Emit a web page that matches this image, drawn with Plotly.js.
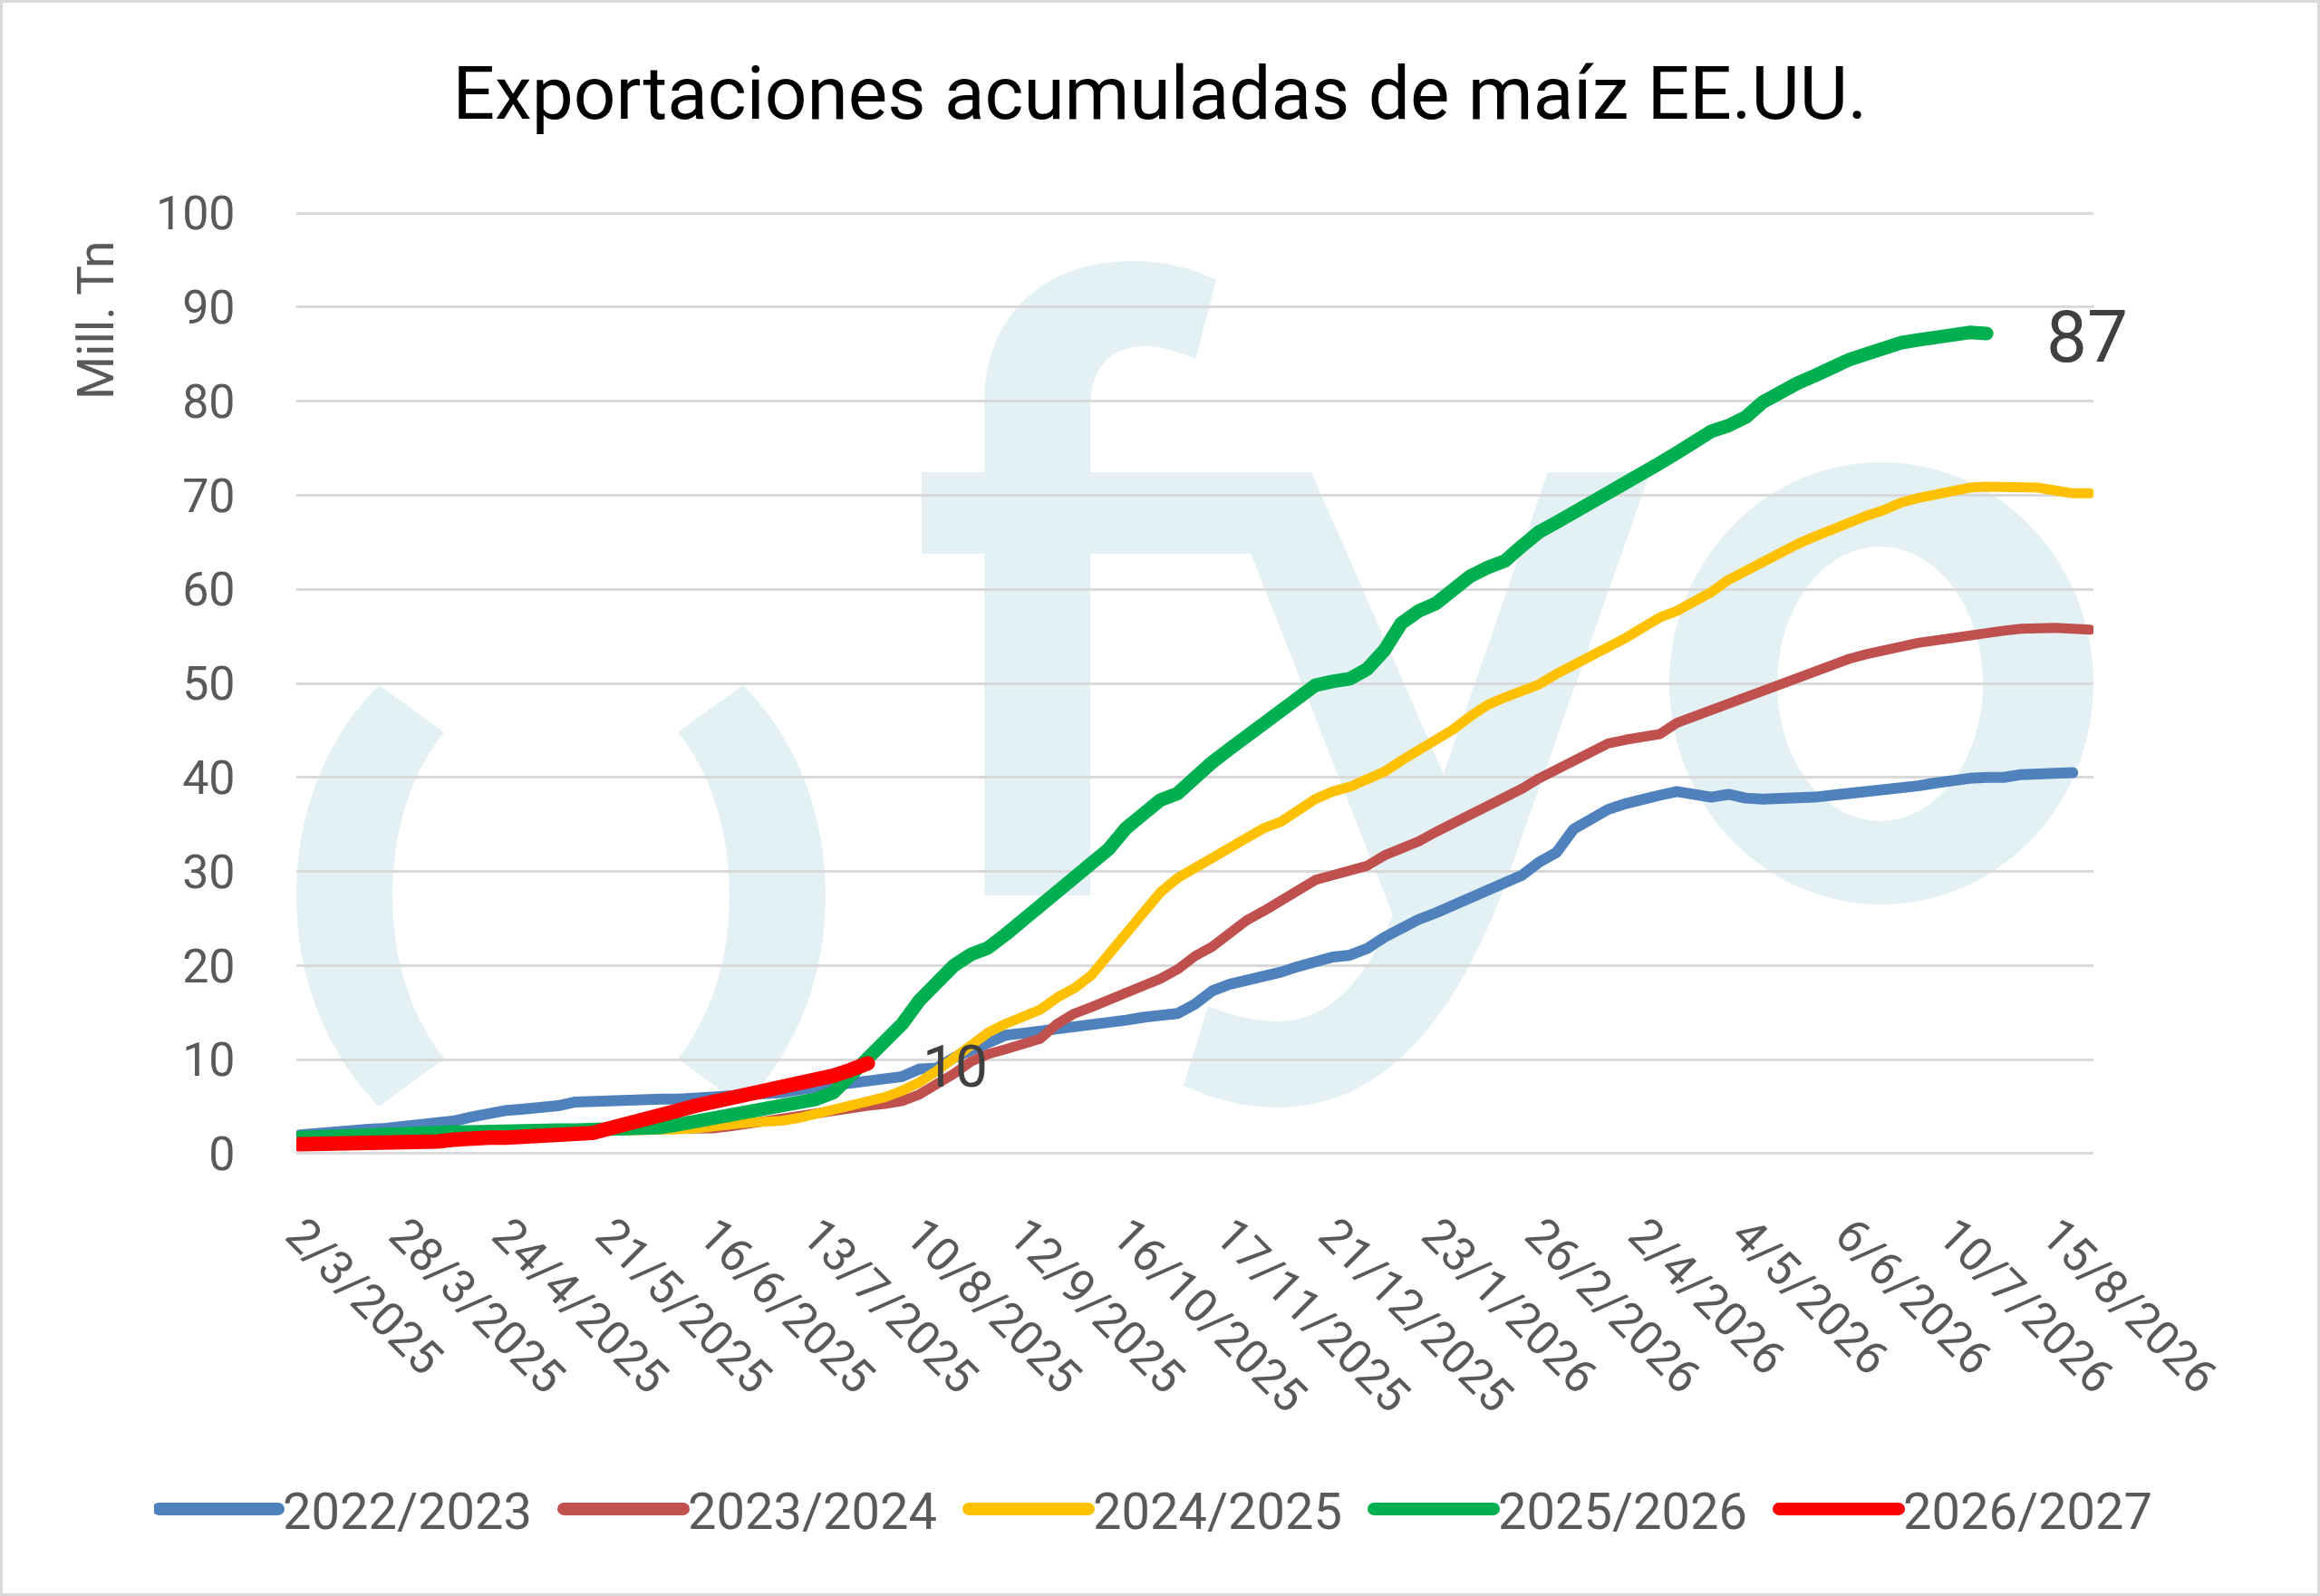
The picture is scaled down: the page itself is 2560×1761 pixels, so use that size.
<!DOCTYPE html>
<html>
<head>
<meta charset="utf-8">
<title>Exportaciones acumuladas de maíz EE.UU.</title>
<script src="https://cdn.plot.ly/plotly-3.0.1.min.js"></script>
<style>
  body { margin: 0; background: #fff; }
  #plot { width: 2560px; height: 1761px; }
  #marco { position: absolute; left: 0; top: 0; width: 2560px; height: 1761px;
           box-sizing: border-box; border: 3px solid #d9d9d9; pointer-events: none; }
  #plot path.js-line { stroke-linecap: round; stroke-linejoin: round; }
  #plot .legend .traces path.js-line { stroke-width: 14px !important; }
</style>
</head>
<body>
<div id="plot"></div>
<div id="marco"></div>
<script>
// semanas: una posición por valor, etiquetas cada 6 semanas
var tickPos = [0, 6, 12, 18, 24, 30, 36, 42, 48, 54, 60, 66, 72, 78, 84, 90, 96, 102];
var tickLabels = ['2/3/2025', '28/3/2025', '24/4/2025', '21/5/2025', '16/6/2025', '13/7/2025',
  '10/8/2025', '12/9/2025', '16/10/2025', '17/11/2025', '21/12/2025', '23/1/2026',
  '26/2/2026', '2/4/2026', '4/5/2026', '6/6/2026', '10/7/2026', '15/8/2026'];

var campanias = ['2022/2023', '2023/2024', '2024/2025', '2025/2026', '2026/2027'];

// millones de toneladas acumuladas
var exp2223 = [2.0, 2.2, 2.3, 2.5, 2.6, 2.7, 2.85, 3.0, 3.2, 3.5,
  3.9, 4.3, 4.6, 4.75, 4.8, 5.1, 5.5, 5.6, 5.6, 5.7,
  5.7, 5.8, 5.8, 5.9, 6.0, 6.2, 6.3, 6.4, 6.5, 6.8,
  7.0, 7.2, 7.4, 7.6, 7.9, 8.2, 9.0, 9.1, 10.2, 11.0,
  12.0, 12.6, 12.8, 13.0, 13.3, 13.5, 13.6, 14.0, 14.2, 14.5,
  14.7, 14.9, 15.9, 17.3, 18.0, 18.4, 18.7, 19.3, 19.9, 20.5,
  20.9, 21.1, 21.8, 23.0, 24.0, 24.9, 25.6, 26.4, 27.3, 28.1,
  28.9, 29.6, 31.0, 32.0, 34.5, 35.7, 36.6, 37.2, 37.8, 38.1,
  38.5, 38.2, 37.9, 38.2, 37.8, 37.7, 37.7, 37.9, 37.9, 38.1,
  38.3, 38.3, 38.5, 38.7, 39.1, 39.4, 39.7, 39.9, 40.0, 40.0,
  40.3, 40.4, 40.4, 40.5];

var exp2324 = [1.5, 1.6, 1.7, 1.8, 1.9, 1.9, 2.0, 2.0, 2.1, 2.2,
  2.2, 2.3, 2.4, 2.5, 2.5, 2.5, 2.6, 2.6, 2.6, 2.6,
  2.6, 2.6, 2.6, 2.6, 2.7, 2.9, 3.2, 3.5, 3.8, 4.0,
  4.2, 4.5, 4.8, 5.1, 5.3, 5.6, 6.3, 7.3, 8.5, 9.8,
  10.6, 11.1, 11.6, 12.2, 13.8, 14.9, 15.6, 16.3, 17.2, 17.8,
  18.6, 19.6, 21.0, 22.0, 23.5, 24.8, 25.8, 27.0, 28.0, 29.1,
  29.6, 30.0, 30.6, 31.7, 32.4, 33.2, 34.2, 35.1, 36.2, 37.0,
  37.8, 38.8, 39.9, 40.9, 41.8, 42.9, 43.6, 44.0, 44.2, 44.6,
  45.8, 46.5, 47.2, 47.9, 48.4, 49.1, 49.8, 50.5, 51.3, 52.1,
  52.6, 53.1, 53.4, 53.9, 54.3, 54.6, 54.9, 55.0, 55.3, 55.6,
  55.8, 55.9, 55.9, 55.8, 55.7];

var exp2425 = [1.3, 1.4, 1.5, 1.6, 1.7, 1.8, 1.9, 2.0, 2.0, 2.1,
  2.1, 2.2, 2.2, 2.3, 2.3, 2.3, 2.4, 2.4, 2.4, 2.5,
  2.5, 2.5, 2.6, 2.7, 2.8, 3.1, 3.3, 3.3, 3.5, 3.8,
  4.2, 4.6, 5.1, 5.6, 6.0, 6.7, 7.6, 8.8, 10.2, 11.6,
  12.9, 13.8, 14.5, 15.3, 16.6, 17.6, 19.0, 21.2, 23.8, 25.6,
  27.8, 29.3, 30.4, 31.4, 32.5, 33.6, 34.6, 35.3, 36.6, 37.7,
  38.5, 39.0, 39.8, 40.6, 41.8, 42.9, 43.9, 45.1, 46.5, 47.7,
  48.5, 49.1, 49.9, 51.0, 51.9, 52.8, 53.8, 54.8, 55.9, 57.0,
  57.7, 58.6, 59.7, 61.0, 62.0, 63.0, 63.9, 64.8, 65.6, 66.4,
  67.2, 67.8, 68.4, 69.2, 69.7, 70.1, 70.5, 70.8, 70.9, 70.9,
  70.9, 70.8, 70.5, 70.2, 70.2];

var exp2526 = [1.7, 1.8, 1.9, 2.0, 2.0, 2.1, 2.1, 2.2, 2.2, 2.3,
  2.3, 2.4, 2.4, 2.4, 2.5, 2.5, 2.5, 2.5, 2.5, 2.5,
  2.6, 2.8, 3.1, 3.4, 3.7, 4.2, 4.6, 4.9, 5.1, 5.4,
  5.8, 6.5, 8.3, 10.3, 12.3, 13.8, 16.3, 18.3, 20.0, 21.2,
  21.9, 23.3, 24.8, 26.2, 27.5, 29.3, 30.5, 32.4, 34.6, 36.0,
  37.6, 38.3, 40.1, 41.6, 43.0, 44.4, 45.5, 46.8, 48.4, 49.8,
  50.2, 50.5, 51.5, 53.5, 56.4, 57.7, 58.5, 60.0, 61.4, 62.3,
  63.0, 64.6, 66.1, 67.1, 68.1, 69.1, 70.0, 71.2, 72.3, 73.4,
  74.5, 75.8, 76.8, 77.4, 78.3, 79.9, 81.0, 81.9, 82.7, 83.7,
  84.4, 85.0, 85.7, 86.2, 86.5, 86.8, 87.0, 87.3, 87.2];

var exp2627 = [1.0, 1.0, 1.0, 1.1, 1.1, 1.1, 1.2, 1.2, 1.3, 1.5,
  1.7, 1.7, 1.7, 1.8, 1.8, 1.8, 1.9, 2.2, 2.7, 3.1,
  3.5, 4.1, 4.6, 5.1, 5.5, 5.9, 6.2, 6.5, 6.8, 7.2,
  7.7, 8.3, 8.9, 9.6];

var FONT = 'Roboto, "Open Sans", sans-serif';

// area del grafico en pixeles
var W = 2560, H = 1761;
var L = 327, R = 2310, T = 234, B = 1274;
function X(px) { return (px - L) / (R - L); }
function Y(py) { return (B - py) / (B - T); }

function toPaper(cmds) {
  return cmds.map(function (c) {
    var s = c[0];
    for (var k = 1; k < c.length; k += 2) {
      s += ' ' + X(c[k]).toFixed(4) + ',' + Y(c[k + 1]).toFixed(4);
    }
    return s;
  }).join(' ') + ' Z';
}

var series = [exp2223, exp2324, exp2425, exp2526, exp2627];
var colors = ['#4f81bd', '#c0504d', '#ffc000', '#00b050', '#ff0000'];
var widths = [12, 11, 11, 15, 16];

var data = series.map(function (s, i) {
  return {
    y: s,
    type: 'scatter',
    mode: 'lines',
    name: campanias[i],
    line: { color: colors[i], width: widths[i] },
    hoverinfo: 'skip'
  };
});

// logo de fondo
var logo = '#e3f1f5';
var parenL = [['M', 418, 756], ['C', 360, 815, 327, 895, 327, 988], ['C', 327, 1080, 360, 1160, 418, 1221],
  ['L', 490, 1168], ['C', 452, 1120, 433, 1055, 433, 988], ['C', 433, 920, 452, 855, 490, 808]];
var parenR = [['M', 820, 756], ['C', 878, 815, 911, 895, 911, 988], ['C', 911, 1080, 878, 1160, 820, 1221],
  ['L', 748, 1168], ['C', 786, 1120, 805, 1055, 805, 988], ['C', 805, 920, 786, 855, 748, 808]];
var letraF = [['M', 1086, 988], ['L', 1086, 611], ['L', 1017, 611], ['L', 1017, 521], ['L', 1086, 521],
  ['L', 1086, 445], ['C', 1086, 350, 1150, 288, 1250, 288], ['C', 1285, 288, 1315, 296, 1342, 309],
  ['L', 1319, 396], ['C', 1300, 388, 1282, 382, 1265, 382], ['C', 1225, 382, 1203, 405, 1203, 450],
  ['L', 1203, 521], ['L', 1352, 521], ['L', 1390, 611], ['L', 1203, 611], ['L', 1203, 988]];
var letraY = [['M', 1345, 521], ['L', 1447, 521], ['L', 1593, 854], ['L', 1708, 521], ['L', 1821, 521],
  ['L', 1663, 970], ['C', 1620, 1090, 1545, 1222, 1410, 1222], ['C', 1372, 1222, 1338, 1212, 1306, 1198],
  ['L', 1333, 1110], ['C', 1360, 1121, 1385, 1127, 1410, 1127], ['C', 1465, 1127, 1505, 1085, 1537, 1010]];

var shapes = [parenL, parenR, letraF, letraY].map(function (p) {
  return { type: 'path', xref: 'paper', yref: 'paper', layer: 'below',
           path: toPaper(p), fillcolor: logo, line: { width: 0 } };
});
shapes.push({ type: 'circle', xref: 'paper', yref: 'paper', layer: 'below',
  x0: X(1842), x1: X(2310), y0: Y(998), y1: Y(510), fillcolor: logo, line: { width: 0 } });
shapes.push({ type: 'circle', xref: 'paper', yref: 'paper', layer: 'below',
  x0: X(1961), x1: X(2188), y0: Y(906), y1: Y(603), fillcolor: '#ffffff', line: { width: 0 } });

var last2627 = exp2627.length - 1;
var last2526 = exp2526.length - 1;

var annotations = [
  { xref: 'paper', yref: 'paper', x: X(106), y: Y(354), text: 'Mill. Tn', textangle: -90,
    showarrow: false, xanchor: 'center', yanchor: 'middle',
    font: { family: FONT, size: 55, color: '#595959' } },
  { x: last2627, y: exp2627[last2627], text: String(Math.round(exp2627[last2627])),
    showarrow: false, xanchor: 'left', yanchor: 'middle', xshift: 58, yshift: -4,
    font: { family: FONT, size: 64, color: '#404040' } },
  { x: last2526, y: exp2526[last2526], text: String(Math.round(exp2526[last2526])),
    showarrow: false, xanchor: 'left', yanchor: 'middle', xshift: 64, yshift: -4,
    font: { family: FONT, size: 80, color: '#404040' } }
];

var layout = {
  width: W,
  height: H,
  margin: { l: L, r: W - R, t: T, b: H - B, pad: 0 },
  paper_bgcolor: '#ffffff',
  plot_bgcolor: 'rgba(0,0,0,0)',
  font: { family: FONT, color: '#595959' },
  title: {
    text: 'Exportaciones acumuladas de maíz EE.UU.',
    font: { family: FONT, size: 82, color: '#000000' },
    x: 0.5, xanchor: 'center', y: 1 - 102 / H, yanchor: 'middle'
  },
  xaxis: {
    range: [-0.2, 104.2],
    tickmode: 'array',
    tickvals: tickPos,
    ticktext: tickLabels,
    tickangle: 45,
    tickfont: { family: FONT, size: 52, color: '#595959' },
    ticks: 'outside', ticklen: 36, tickcolor: 'rgba(0,0,0,0)',
    showgrid: false, zeroline: false, showline: false
  },
  yaxis: {
    range: [-0.1, 100.1],
    tick0: 0, dtick: 10,
    tickfont: { family: FONT, size: 52, color: '#595959' },
    ticks: 'outside', ticklen: 56, tickcolor: 'rgba(0,0,0,0)',
    gridcolor: '#d9d9d9', gridwidth: 3,
    zeroline: false, showline: false
  },
  showlegend: true,
  legend: {
    orientation: 'h',
    x: X(170), xanchor: 'left',
    y: Y(1665), yanchor: 'middle',
    font: { family: FONT, size: 56, color: '#595959' },
    itemwidth: 132,
    entrywidth: 300,
    entrywidthmode: 'pixels',
    bgcolor: 'rgba(0,0,0,0)'
  },
  shapes: shapes,
  annotations: annotations,
  hovermode: false
};

Plotly.newPlot('plot', data, layout, { staticPlot: true });
</script>
</body>
</html>
